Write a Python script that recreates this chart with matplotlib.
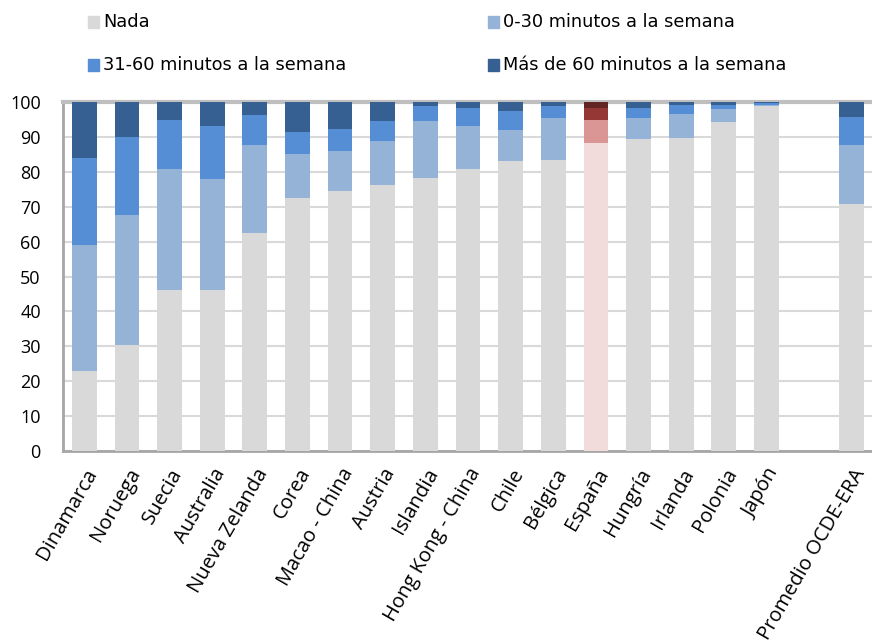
import matplotlib.pyplot as plt
import numpy as np
from matplotlib.patches import Rectangle

# datos (porcentaje de alumnos)
paises = ["Dinamarca", "Noruega", "Suecia", "Australia", "Nueva Zelanda", "Corea",
          "Macao - China", "Austria", "Islandia", "Hong Kong - China", "Chile",
          "Bélgica", "España", "Hungría", "Irlanda", "Polonia", "Japón", "",
          "Promedio OCDE-ERA"]
nada = [23.0, 30.3, 46.0, 46.0, 62.5, 72.4, 74.6, 76.2, 78.3, 80.9, 83.1,
        83.5, 88.3, 89.4, 89.8, 94.4, 98.9, 0, 70.7]
min_0_30 = [36.0, 37.4, 34.9, 32.0, 25.3, 12.8, 11.4, 12.7, 16.3, 12.3, 9.0,
            11.9, 6.6, 6.0, 6.8, 3.6, 0.1, 0, 17.1]
min_31_60 = [25.0, 22.2, 14.0, 15.2, 8.6, 6.3, 6.3, 5.7, 4.3, 5.1, 5.4,
             3.5, 3.5, 2.9, 2.6, 1.2, 0.7, 0, 8.0]
mas_60 = [16.0, 10.1, 5.1, 6.8, 3.6, 8.5, 7.7, 5.4, 1.1, 1.7, 2.5,
          1.1, 1.6, 1.7, 0.8, 0.8, 0.3, 0, 4.2]

series = [nada, min_0_30, min_31_60, mas_60]
nombres = ["Nada", "0-30 minutos a la semana", "31-60 minutos a la semana",
           "Más de 60 minutos a la semana"]
colores = ["#D9D9D9", "#95B3D7", "#558ED5", "#376092"]
colores_esp = ["#F2DCDB", "#DA9694", "#953735", "#632523"]

fig = plt.figure(figsize=(8.72, 6.4), dpi=100)
ax = fig.add_axes([63 / 872, 189 / 640, 810 / 872, 349 / 640])

x = np.arange(len(paises))
base = np.zeros(len(paises))
for k, vals in enumerate(series):
    vals = np.array(vals)
    cols = [colores_esp[k] if p == "España" else colores[k] for p in paises]
    ax.bar(x, vals, bottom=base, width=0.58, color=cols, zorder=3)
    base += vals

ax.set_xlim(-0.5, len(paises) - 0.5)
ax.set_ylim(0, 100)
ax.set_yticks(np.arange(0, 101, 10))
ax.yaxis.grid(True, color="#D9D9D9", linewidth=1.5, zorder=0)
ax.set_axisbelow(True)

for s in ["left", "bottom", "top"]:
    ax.spines[s].set_color("#A6A6A6")
    ax.spines[s].set_linewidth(2)
ax.spines["top"].set_color("#BFBFBF")
ax.spines["top"].set_linewidth(3)
ax.spines["right"].set_visible(False)

ax.tick_params(axis="y", length=0, pad=16, labelsize=13)
ax.tick_params(axis="x", length=0, pad=10, labelsize=14.5)
ax.set_xticks(x)
ax.set_xticklabels(paises, rotation=60, ha="right", rotation_mode="anchor")
for lab in ax.get_xticklabels() + ax.get_yticklabels():
    lab.set_family(["Open Sans", "DejaVu Sans"])

# leyenda manual en dos columnas
pos = [(88, 22), (488, 22), (88, 65), (488, 65)]
for (px, py), nom, col in zip(pos, nombres, colores):
    fig.patches.append(Rectangle((px / 872, 1 - (py + 6) / 640), 11 / 872, 12 / 640,
                                 transform=fig.transFigure, color=col))
    fig.text((px + 15) / 872, 1 - py / 640, nom, va="center", ha="left",
             fontsize=12.8, family="DejaVu Sans")

fig.savefig("out.png", dpi=100)
